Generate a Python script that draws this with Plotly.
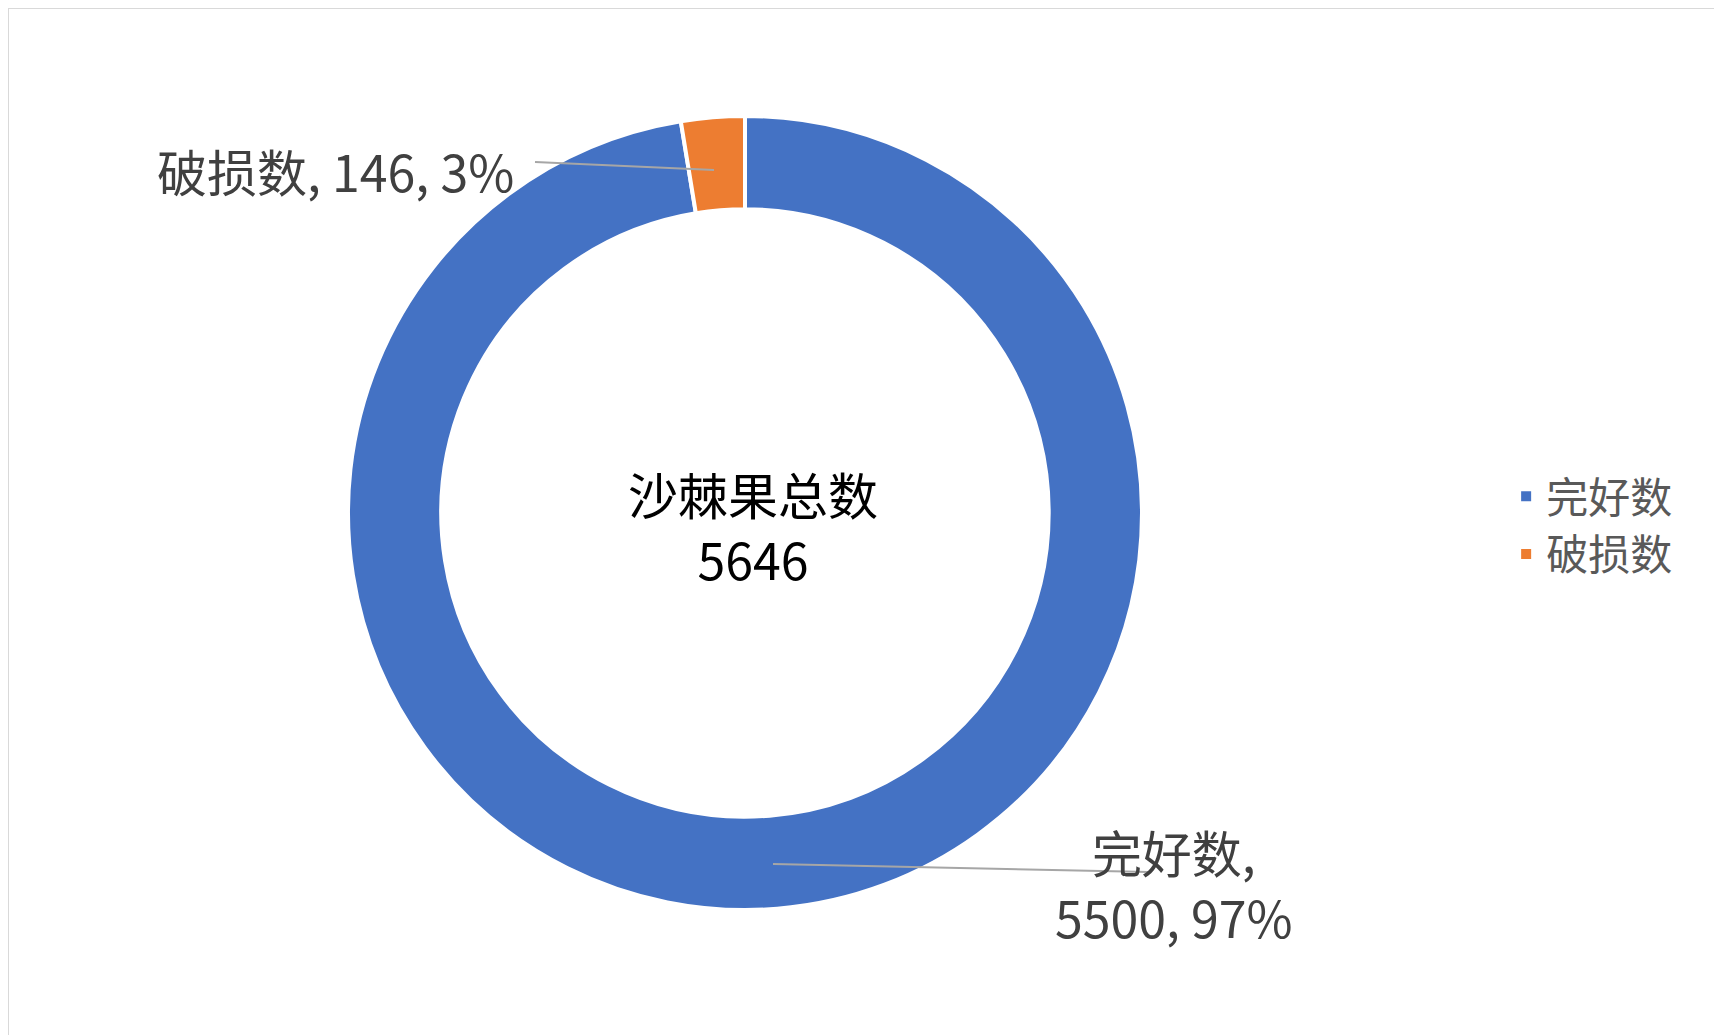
import plotly.graph_objects as go

labels = ["完好数", "破损数"]
values = [5500, 146]
colors = ["#4472C4", "#ED7D31"]
total = sum(values)

W, H = 1722, 1035
font = "Noto Sans CJK SC"

cx, cy, r = 737, 505, 397
fig = go.Figure(go.Pie(
    labels=labels, values=values, hole=0.765,
    sort=False, direction="clockwise", rotation=0,
    marker=dict(colors=colors, line=dict(color="white", width=4)),
    textinfo="none", hoverinfo="label+value+percent",
    domain=dict(x=[(cx-r)/W, (cx+r)/W], y=[1-(cy+r)/H, 1-(cy-r)/H]),
))

def px(x, y):
    return x / W, 1 - y / H

pct = [round(v / total * 100) for v in values]
# leader lines
for (x0, y0, x1, y1) in [(527, 154, 706, 162), (765, 856, 1141, 864)]:
    a, b = px(x0, y0); c, d = px(x1, y1)
    fig.add_shape(type="line", xref="paper", yref="paper", x0=a, y0=b, x1=c, y1=d,
                  line=dict(color="#A6A6A6", width=2))

x, y = px(508, 162)
fig.add_annotation(x=x, y=y, xref="paper", yref="paper", xanchor="right", yanchor="middle",
                   showarrow=False, text=f"{labels[1]}, {values[1]}, {pct[1]}%",
                   font=dict(size=50, color="#404040", family=font))
x, y = px(1287, 875)
fig.add_annotation(x=x, y=y, xref="paper", yref="paper", yanchor="middle",
                   showarrow=False, align="center",
                   text=f"{labels[0]},<br>{values[0]}, {pct[0]}%",
                   font=dict(size=50, color="#404040", family=font))
x, y = px(745, 517)
fig.add_annotation(x=x, y=y, xref="paper", yref="paper", yanchor="middle",
                   showarrow=False, align="center",
                   text=f"沙棘果总数<br>{total}",
                   font=dict(size=50, color="black", family=font))

fig.add_shape(type="rect", xref="paper", yref="paper", x0=0, y0=0, x1=1, y1=1,
              line=dict(color="#D9D9D9", width=2))

fig.update_layout(
    width=W, height=H, margin=dict(l=0, r=0, t=0, b=0),
    paper_bgcolor="white", font=dict(family=font),
    legend=dict(x=0.87, y=0.5, yanchor="middle", font=dict(size=42, color="#595959"),
                itemsizing="constant"),
)
fig.write_html("out.html")
